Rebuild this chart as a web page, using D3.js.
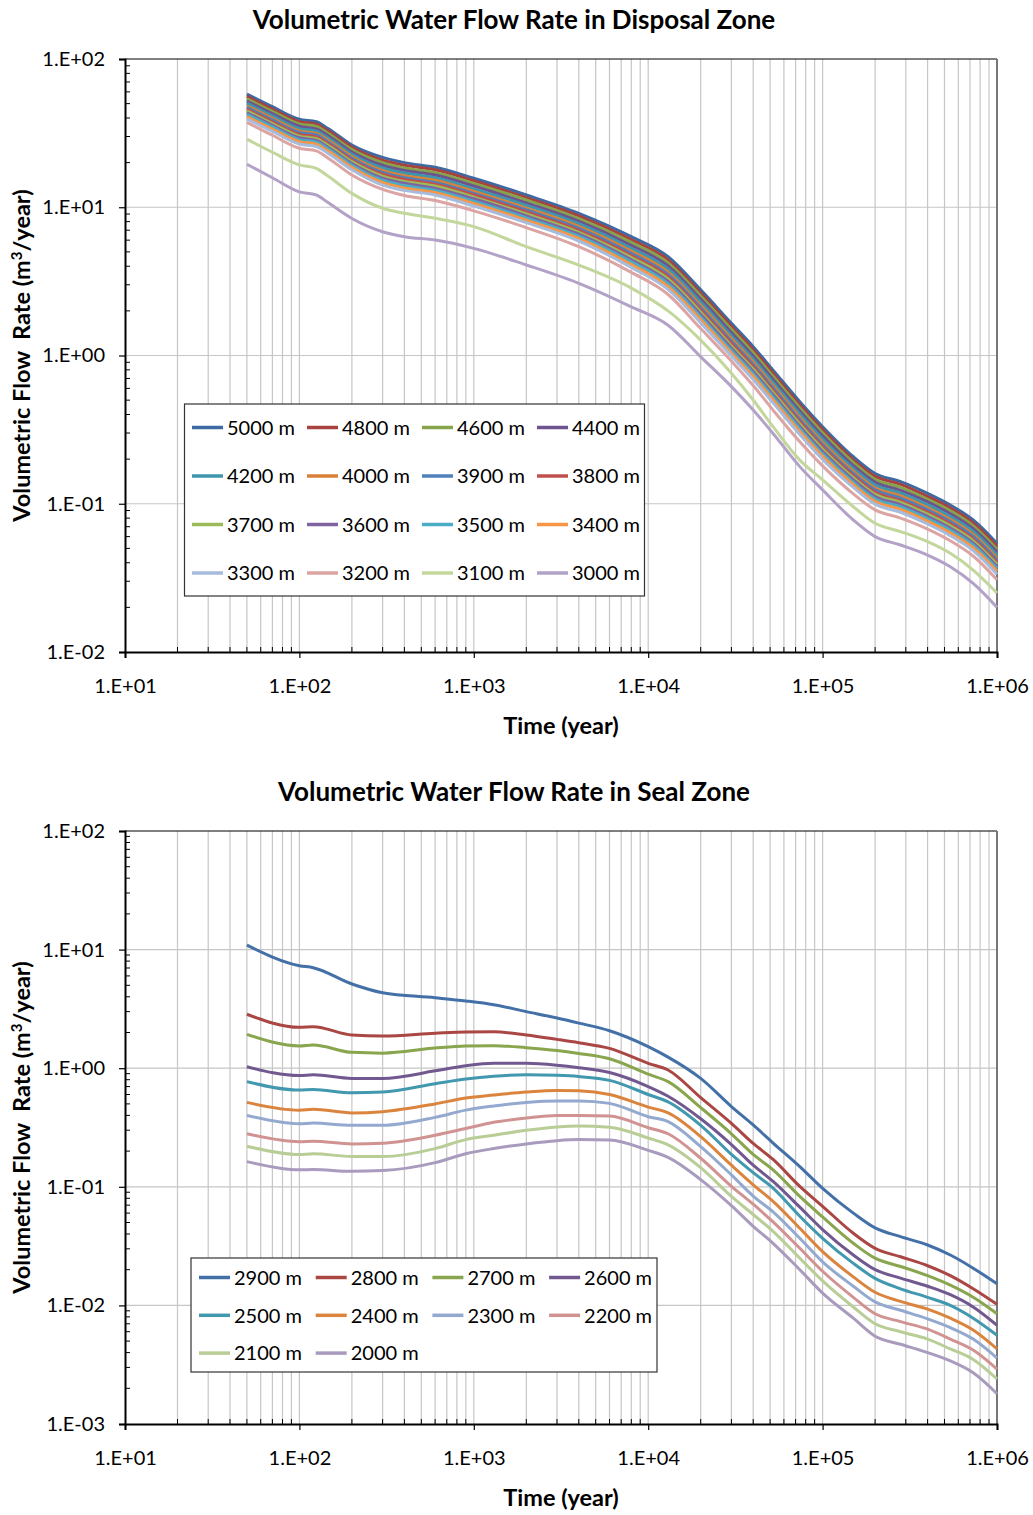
<!DOCTYPE html>
<html>
<head>
<meta charset="utf-8">
<script src="https://cdn.jsdelivr.net/npm/d3@7"></script>
<style>
  body { margin: 0; background: #fff; }
  svg text { font-family: Lato, "Open Sans", "Liberation Sans", sans-serif; fill: #000; }
</style>
</head>
<body>
<svg id="chart" width="1033" height="1515"></svg>
<script>
// ---- Time axis (years) ----
const xTickValues = [1e1, 1e2, 1e3, 1e4, 1e5, 1e6];
const xTickLabels = ["1.E+01", "1.E+02", "1.E+03", "1.E+04", "1.E+05", "1.E+06"];

// ---- Disposal zone ----
const disposalYTickValues = [1e-2, 1e-1, 1e0, 1e1, 1e2];
const disposalYTickLabels = ["1.E-02", "1.E-01", "1.E+00", "1.E+01", "1.E+02"];
const disposalTimes = [50, 70, 100, 125, 145, 200, 300, 400, 600, 1000, 2000, 4000, 8000, 13000, 20000, 30000, 40000, 52000, 74000, 100000, 150000, 200000, 280000, 400000, 540000, 730000, 1000000];
const disposalNames = ["5000 m", "4800 m", "4600 m", "4400 m", "4200 m", "4000 m", "3900 m", "3800 m",
                       "3700 m", "3600 m", "3500 m", "3400 m", "3300 m", "3200 m", "3100 m", "3000 m"];
const disposalColors = ["#3E6AA3", "#A8423F", "#86A44A", "#6E548D", "#3D96AE", "#DA8137", "#4F81BD", "#C0504D",
                        "#9BBB59", "#8064A2", "#4BACC6", "#F79646", "#A7BBDD", "#DCA4A3", "#C3D69B", "#B3A2C7"];
const flow5000 = [58.0, 47.7, 39.2, 37.7, 34.1, 26.3, 21.7, 20.0, 18.6, 15.7, 12.1, 9.1, 6.33, 4.64, 2.77, 1.65, 1.147, 0.797, 0.488, 0.331, 0.2075, 0.160, 0.141, 0.1175, 0.098, 0.0777, 0.054];
const flow4800 = [56.0, 46.0, 37.8, 36.4, 32.9, 25.4, 20.8, 19.2, 17.9, 15.1, 11.6, 8.74, 6.05, 4.42, 2.64, 1.57, 1.093, 0.760, 0.465, 0.315, 0.198, 0.153, 0.135, 0.112, 0.0937, 0.0743, 0.0516];
const flow4600 = [53.9, 44.4, 36.5, 35.1, 31.7, 24.5, 20.0, 18.4, 17.1, 14.5, 11.2, 8.39, 5.79, 4.22, 2.52, 1.50, 1.043, 0.724, 0.444, 0.301, 0.190, 0.146, 0.129, 0.107, 0.0896, 0.0710, 0.0494];
const flow4400 = [52.0, 42.8, 35.2, 33.8, 30.6, 23.6, 19.2, 17.7, 16.5, 13.9, 10.7, 8.05, 5.53, 4.02, 2.40, 1.43, 0.993, 0.690, 0.423, 0.287, 0.181, 0.140, 0.123, 0.103, 0.0857, 0.0679, 0.0472];
const flow4200 = [50.2, 41.3, 33.9, 32.6, 29.5, 22.8, 18.4, 17.0, 15.8, 13.3, 10.3, 7.74, 5.29, 3.83, 2.29, 1.36, 0.947, 0.658, 0.403, 0.273, 0.173, 0.134, 0.118, 0.0982, 0.0819, 0.0650, 0.0451];
const flow4000 = [48.4, 39.8, 32.7, 31.5, 28.5, 22.0, 17.7, 16.3, 15.2, 12.8, 9.87, 7.43, 5.06, 3.65, 2.18, 1.30, 0.903, 0.627, 0.384, 0.260, 0.166, 0.128, 0.113, 0.0939, 0.0783, 0.0621, 0.0431];
const flow3900 = [47.2, 38.8, 31.9, 30.7, 27.7, 21.4, 17.2, 15.8, 14.7, 12.4, 9.58, 7.21, 4.89, 3.52, 2.10, 1.25, 0.871, 0.605, 0.370, 0.251, 0.160, 0.124, 0.109, 0.0908, 0.0758, 0.0601, 0.0417];
const flow3800 = [45.9, 37.7, 31.0, 29.8, 27.0, 20.8, 16.7, 15.4, 14.3, 12.1, 9.29, 6.99, 4.73, 3.40, 2.03, 1.21, 0.840, 0.583, 0.357, 0.242, 0.155, 0.120, 0.105, 0.0878, 0.0732, 0.0580, 0.0403];
const flow3700 = [44.7, 36.7, 30.2, 29.0, 26.3, 20.3, 16.2, 14.9, 13.9, 11.7, 9.01, 6.78, 4.58, 3.28, 1.96, 1.16, 0.810, 0.563, 0.345, 0.234, 0.150, 0.116, 0.102, 0.0850, 0.0709, 0.0562, 0.0390];
const flow3600 = [43.4, 35.7, 29.4, 28.2, 25.5, 19.7, 15.7, 14.5, 13.4, 11.4, 8.75, 6.58, 4.42, 3.16, 1.89, 1.12, 0.781, 0.543, 0.332, 0.225, 0.145, 0.112, 0.0986, 0.0821, 0.0685, 0.0543, 0.0377];
const flow3500 = [42.3, 34.8, 28.6, 27.5, 24.9, 19.2, 15.2, 14.0, 13.0, 11.0, 8.48, 6.38, 4.28, 3.05, 1.82, 1.08, 0.754, 0.524, 0.321, 0.217, 0.140, 0.108, 0.0953, 0.0794, 0.0662, 0.0525, 0.0365];
const flow3400 = [40.9, 33.7, 27.7, 26.6, 24.1, 18.6, 14.7, 13.5, 12.6, 10.6, 8.19, 6.16, 4.11, 2.93, 1.75, 1.04, 0.724, 0.503, 0.308, 0.209, 0.135, 0.104, 0.0917, 0.0764, 0.0637, 0.0505, 0.0351];
const flow3300 = [39.5, 32.5, 26.7, 25.7, 23.2, 17.9, 14.1, 13.0, 12.1, 10.2, 7.87, 5.92, 3.93, 2.79, 1.66, 0.992, 0.689, 0.479, 0.293, 0.199, 0.129, 0.0994, 0.0876, 0.0730, 0.0609, 0.0483, 0.0335];
const flow3200 = [37.4, 30.6, 25.0, 24.0, 21.6, 16.5, 13.2, 12.0, 11.1, 9.46, 7.29, 5.42, 3.64, 2.58, 1.52, 0.917, 0.627, 0.428, 0.262, 0.180, 0.1166, 0.0909, 0.080, 0.0675, 0.0563, 0.0444, 0.0307];
const flow3100 = [28.8, 23.5, 19.3, 18.3, 16.3, 12.4, 9.84, 9.1, 8.42, 7.4, 5.42, 4.07, 2.85, 2.0, 1.27, 0.759, 0.501, 0.331, 0.197, 0.145, 0.0955, 0.0738, 0.0649, 0.0555, 0.0463, 0.0357, 0.025];
const flow3000 = [19.5, 15.8, 12.7, 12.1, 10.8, 8.4, 6.84, 6.33, 6.01, 5.28, 4.08, 3.07, 2.13, 1.6, 0.98, 0.617, 0.429, 0.298, 0.178, 0.124, 0.0777, 0.06, 0.0527, 0.0451, 0.0376, 0.029, 0.020];

// ---- Seal zone ----
const sealYTickValues = [1e-3, 1e-2, 1e-1, 1e0, 1e1, 1e2];
const sealYTickLabels = ["1.E-03", "1.E-02", "1.E-01", "1.E+00", "1.E+01", "1.E+02"];
const sealTimes = [50, 100, 120, 200, 300, 600, 900, 1300, 2000, 3000, 4000, 6000, 10000, 13000, 20000, 30000, 40000, 52000, 74000, 100000, 150000, 200000, 280000, 400000, 540000, 730000, 1000000];
const sealNames = ["2900 m", "2800 m", "2700 m", "2600 m", "2500 m", "2400 m", "2300 m", "2200 m", "2100 m", "2000 m"];
const sealColors = ["#4470A8", "#AA4643", "#89A54E", "#71588F", "#4198AF", "#DB843D", "#93A9CF", "#D19392", "#B9CD96", "#A99BBD"];
const flow2900 = [10.9, 7.32, 7.04, 5.13, 4.33, 3.93, 3.69, 3.43, 3.0, 2.65, 2.40, 2.07, 1.52, 1.24, 0.82, 0.475, 0.332, 0.234, 0.148, 0.097, 0.06, 0.045, 0.038, 0.0323, 0.0266, 0.0206, 0.0152];
const flow2800 = [2.85, 2.21, 2.24, 1.905, 1.87, 1.97, 2.02, 2.03, 1.905, 1.75, 1.64, 1.47, 1.10, 0.966, 0.565, 0.343, 0.232, 0.17, 0.1008, 0.0685, 0.0406, 0.0303, 0.0257, 0.0216, 0.0178, 0.0138, 0.0102];
const flow2700 = [1.93, 1.54, 1.57, 1.36, 1.34, 1.48, 1.54, 1.55, 1.49, 1.41, 1.33, 1.2, 0.89, 0.77, 0.465, 0.28, 0.1875, 0.139, 0.083, 0.0557, 0.0334, 0.025, 0.0213, 0.0178, 0.0148, 0.0117, 0.0085];
const flow2600 = [1.03, 0.866, 0.88, 0.82, 0.82, 0.95, 1.05, 1.10, 1.10, 1.06, 1.01, 0.92, 0.70, 0.58, 0.375, 0.227, 0.152, 0.111, 0.0673, 0.0436, 0.0266, 0.02, 0.017, 0.0145, 0.0123, 0.0097, 0.0068];
const flow2500 = [0.77, 0.654, 0.66, 0.62, 0.63, 0.74, 0.81, 0.855, 0.88, 0.87, 0.85, 0.79, 0.6, 0.52, 0.33, 0.1875, 0.1315, 0.0975, 0.0565, 0.0368, 0.0226, 0.0169, 0.0138, 0.0117, 0.01, 0.0078, 0.0056];
const flow2400 = [0.515, 0.443, 0.45, 0.42, 0.43, 0.50, 0.56, 0.594, 0.63, 0.65, 0.645, 0.60, 0.47, 0.42, 0.265, 0.152, 0.104, 0.0755, 0.0447, 0.0284, 0.0174, 0.0129, 0.0108, 0.0093, 0.0078, 0.0062, 0.0043];
const flow2300 = [0.40, 0.34, 0.345, 0.33, 0.33, 0.385, 0.443, 0.48, 0.515, 0.53, 0.53, 0.505, 0.39, 0.355, 0.218, 0.126, 0.0836, 0.0615, 0.0368, 0.0233, 0.0145, 0.0107, 0.0091, 0.0077, 0.0065, 0.0052, 0.0036];
const flow2200 = [0.28, 0.24, 0.242, 0.23, 0.233, 0.272, 0.31, 0.35, 0.38, 0.40, 0.40, 0.395, 0.315, 0.28, 0.174, 0.101, 0.0713, 0.0506, 0.0303, 0.0194, 0.0117, 0.0085, 0.0073, 0.0063, 0.0052, 0.0042, 0.0029];
const flow2100 = [0.22, 0.187, 0.19, 0.18, 0.18, 0.21, 0.25, 0.272, 0.30, 0.32, 0.325, 0.318, 0.258, 0.226, 0.145, 0.083, 0.0584, 0.0421, 0.025, 0.0161, 0.0097, 0.007, 0.006, 0.0052, 0.0043, 0.0035, 0.0024];
const flow2000 = [0.163, 0.139, 0.14, 0.135, 0.137, 0.16, 0.19, 0.21, 0.23, 0.245, 0.25, 0.248, 0.203, 0.177, 0.115, 0.0693, 0.0464, 0.0334, 0.02, 0.0127, 0.0078, 0.0055, 0.0047, 0.004, 0.0034, 0.0027, 0.0018];

const disposalValues = [flow5000, flow4800, flow4600, flow4400, flow4200, flow4000, flow3900, flow3800,
                        flow3700, flow3600, flow3500, flow3400, flow3300, flow3200, flow3100, flow3000];
const sealValues = [flow2900, flow2800, flow2700, flow2600, flow2500, flow2400, flow2300, flow2200, flow2100, flow2000];

const svg = d3.select("#chart");
const plotLeft = 125, plotRight = 997;

function drawPanel(p) {
  const g = svg.append("g");
  const x = d3.scaleLog().domain([1e1, 1e6]).range([plotLeft, plotRight]);
  const y = d3.scaleLog().domain([p.yTickValues[0], p.yTickValues[p.yTickValues.length - 1]]).range([p.bottom, p.top]);

  // gridlines: every minor step on time, decades only on flow
  g.append("g").selectAll("line").data(x.ticks().filter(d => d > 1e1 && d < 1e6))
    .join("line")
    .attr("x1", d => x(d)).attr("x2", d => x(d))
    .attr("y1", p.top).attr("y2", p.bottom)
    .attr("stroke", "#c6c6c6").attr("stroke-width", 1.2);
  g.append("g").selectAll("line").data(p.yTickValues.slice(1, -1))
    .join("line")
    .attr("x1", plotLeft).attr("x2", plotRight)
    .attr("y1", d => y(d)).attr("y2", d => y(d))
    .attr("stroke", "#c6c6c6").attr("stroke-width", 1.2);
  // frame: top line and right edge
  g.append("line").attr("x1", plotLeft).attr("x2", plotRight)
    .attr("y1", y(p.yTickValues[p.yTickValues.length - 1])).attr("y2", y(p.yTickValues[p.yTickValues.length - 1]))
    .attr("stroke", "#000").attr("stroke-width", 1.2);
  g.append("line").attr("x1", x(1e6)).attr("x2", x(1e6))
    .attr("y1", p.top).attr("y2", p.bottom)
    .attr("stroke", "#777").attr("stroke-width", 2);

  // series
  const line = d3.line().curve(d3.curveMonotoneX)
    .x(d => x(d[0])).y(d => y(d[1]));
  p.values.forEach((vals, i) => {
    g.append("path")
      .datum(p.times.map((t, k) => [t, vals[k]]))
      .attr("d", line)
      .attr("fill", "none")
      .attr("stroke", p.colors[i])
      .attr("stroke-width", 3)
      .attr("stroke-linejoin", "round");
  });

  // minor ticks (inside)
  g.append("g").selectAll("line").data(x.ticks().filter(d => !xTickValues.includes(d)))
    .join("line")
    .attr("x1", d => x(d)).attr("x2", d => x(d))
    .attr("y1", p.bottom).attr("y2", p.bottom - 5)
    .attr("stroke", "#000").attr("stroke-width", 1);
  g.append("g").selectAll("line").data(y.ticks().filter(d => !p.yTickValues.some(v => Math.abs(v - d) / v < 1e-9)))
    .join("line")
    .attr("x1", plotLeft).attr("x2", plotLeft + 5)
    .attr("y1", d => y(d)).attr("y2", d => y(d))
    .attr("stroke", "#000").attr("stroke-width", 1);

  // axes
  const xAxis = d3.axisBottom(x).tickValues(xTickValues).tickSize(6).tickPadding(21)
    .tickFormat((d, i) => xTickLabels[i]);
  const gx = g.append("g").attr("transform", `translate(0,${p.bottom})`).call(xAxis);
  const yAxis = d3.axisLeft(y).tickValues(p.yTickValues).tickSize(6).tickPadding(14)
    .tickFormat((d, i) => p.yTickLabels[i]);
  const gy = g.append("g").attr("transform", `translate(${plotLeft},0)`).call(yAxis);
  [gx, gy].forEach(a => {
    a.select(".domain").attr("stroke", "#000").attr("stroke-width", 2);
    a.selectAll(".tick line").attr("stroke", "#000").attr("stroke-width", 1.2);
    a.selectAll(".tick text").style("font-size", "20px").attr("fill", "#000");
  });

  // titles
  g.append("text").attr("x", 514).attr("y", p.top - 30)
    .attr("text-anchor", "middle").style("font-size", "26px").style("font-weight", "bold")
    .text(p.title);
  g.append("text").attr("x", (plotLeft + plotRight) / 2).attr("y", p.bottom + 82)
    .attr("text-anchor", "middle").style("font-size", "23.5px").style("font-weight", "bold")
    .text("Time (year)");
  const yt = g.append("text")
    .attr("transform", `translate(30,${(p.top + p.bottom) / 2}) rotate(-90)`)
    .attr("text-anchor", "middle").style("font-size", "23.5px").style("font-weight", "bold")
    .style("white-space", "pre");
  yt.append("tspan").text("Volumetric Flow  Rate (m");
  yt.append("tspan").text("3").attr("dy", -8).style("font-size", "15px");
  yt.append("tspan").text("/year)").attr("dy", 8);

  // legend
  const L = p.legend;
  const lg = g.append("g");
  lg.append("rect").attr("x", L.x).attr("y", L.y).attr("width", L.w).attr("height", L.h)
    .attr("fill", "#fff").attr("stroke", "#333").attr("stroke-width", 1.2);
  p.names.forEach((name, i) => {
    const col = i % 4, row = Math.floor(i / 4);
    const lx = L.x + L.padX + col * L.colW;
    const ly = L.y + L.padY + row * L.rowH;
    lg.append("line").attr("x1", lx).attr("x2", lx + 31).attr("y1", ly).attr("y2", ly)
      .attr("stroke", p.colors[i]).attr("stroke-width", 3.5);
    lg.append("text").attr("x", lx + 35).attr("y", ly).attr("dy", "0.36em")
      .style("font-size", "20px").text(name);
  });
}

drawPanel({
  title: "Volumetric Water Flow Rate in Disposal Zone",
  top: 59, bottom: 652,
  yTickValues: disposalYTickValues, yTickLabels: disposalYTickLabels,
  times: disposalTimes, values: disposalValues, names: disposalNames, colors: disposalColors,
  legend: { x: 184.5, y: 404, w: 460, h: 192, padX: 7.5, padY: 23.5, colW: 115, rowH: 48.5 }
});

drawPanel({
  title: "Volumetric Water Flow Rate in Seal Zone",
  top: 831, bottom: 1424,
  yTickValues: sealYTickValues, yTickLabels: sealYTickLabels,
  times: sealTimes, values: sealValues, names: sealNames, colors: sealColors,
  legend: { x: 191, y: 1258, w: 466, h: 114, padX: 8, padY: 19.5, colW: 116.7, rowH: 37.8 }
});
</script>
</body>
</html>
